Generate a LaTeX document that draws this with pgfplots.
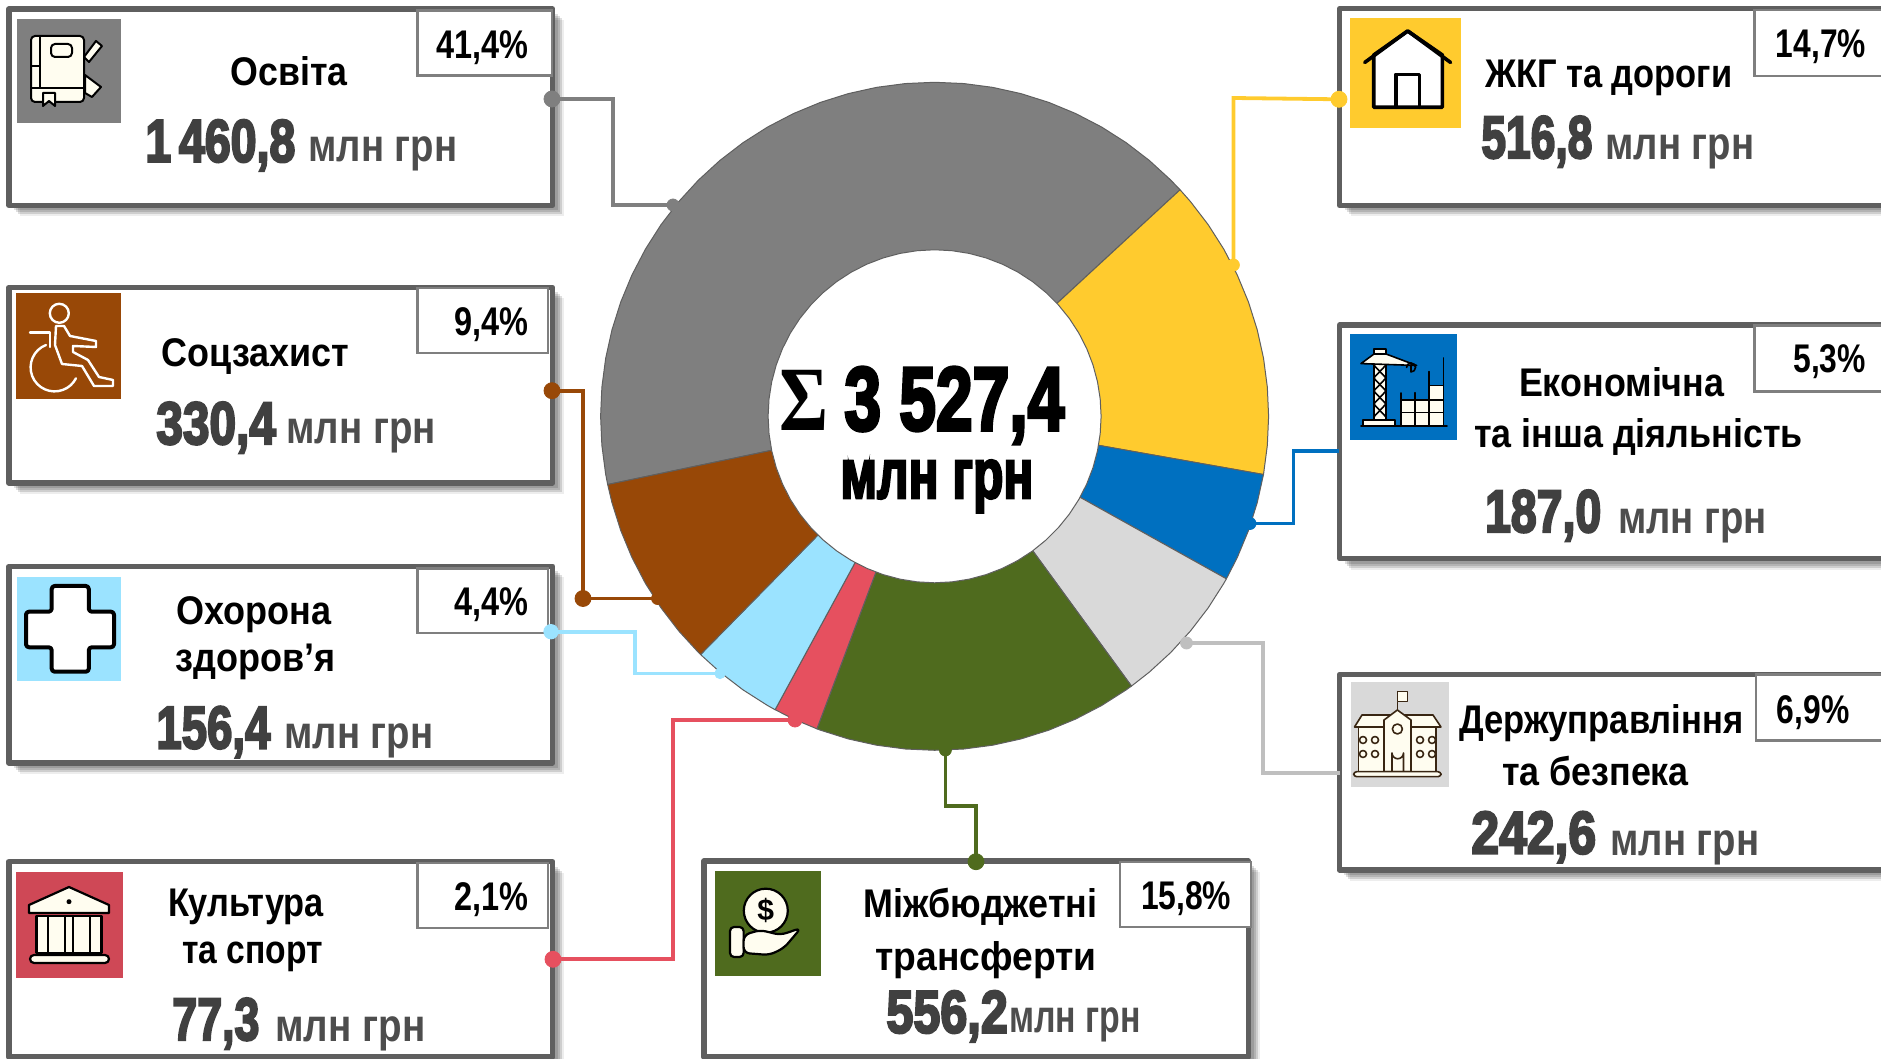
\documentclass[border=0pt]{standalone}
\usepackage{fontspec}
\usepackage{graphicx}
\usepackage{pgfplots}
\pgfplotsset{compat=1.18}
\setmainfont{Liberation Sans}
\newfontfamily\heavy{Liberation Sans}[BoldFeatures={FakeBold=4}]
\newfontfamily\sigmafont{Liberation Serif}

\definecolor{cGray}{HTML}{7F7F7F}
\definecolor{cYellow}{HTML}{FFCB2E}
\definecolor{cBlue}{HTML}{0070C0}
\definecolor{cLight}{HTML}{D9D9D9}
\definecolor{cLine}{HTML}{BFBFBF}
\definecolor{cGreen}{HTML}{4F6B1E}
\definecolor{cRed}{HTML}{E6505F}
\definecolor{cSky}{HTML}{9BE3FF}
\definecolor{cBrown}{HTML}{984807}
\definecolor{cEdge}{HTML}{5F5F5F}
\definecolor{cNum}{HTML}{404040}
\definecolor{cUnit}{HTML}{4D4D4D}
\definecolor{cream}{HTML}{FFFDF0}

% font sizes: 1 px of the reference is 0.5pt here
\newcommand\fT{\fontsize{20}{20}\selectfont\bfseries}
\newcommand\fN{\heavy\bfseries\fontsize{30}{30}\selectfont}
\newcommand\fU{\fontsize{23}{23}\selectfont\bfseries}
\newcommand\fP{\fontsize{20}{20}\selectfont\bfseries}

% text at left x, baseline y, fitted to a width in px
\newcommand\T[6][black]{\node[anchor=base west,inner sep=0pt,text=#1] at (axis cs:#2,#3) {#5\resizebox{\dimexpr#4pt/2\relax}{\height}{#6}};}

% outer card with soft shadow
\newcommand\Card[4]{%
  \addplot[draw=none,fill=black,fill opacity=.07,xshift=5.5pt,yshift=-5.5pt] coordinates {(#1,#2)(#3,#2)(#3,#4)(#1,#4)} --cycle;
  \addplot[draw=none,fill=black,fill opacity=.13,xshift=4.5pt,yshift=-4.5pt] coordinates {(#1,#2)(#3,#2)(#3,#4)(#1,#4)} --cycle;
  \addplot[draw=none,fill=black,fill opacity=.13,xshift=3.5pt,yshift=-3.5pt] coordinates {(#1,#2)(#3,#2)(#3,#4)(#1,#4)} --cycle;
  \addplot[draw=none,fill=black,fill opacity=.13,xshift=2.5pt,yshift=-2.5pt] coordinates {(#1,#2)(#3,#2)(#3,#4)(#1,#4)} --cycle;
  \addplot[draw=cEdge,fill=white,line width=2.7pt,line join=round] coordinates {(#1,#2)(#3,#2)(#3,#4)(#1,#4)} --cycle;
}
% percent box
\newcommand\Pct[4]{\addplot[draw=cGray,fill=white,line width=1.25pt] coordinates {(#1,#2)(#3,#2)(#3,#4)(#1,#4)} --cycle;}
% coloured icon square
\newcommand\Tile[5]{\addplot[draw=none,fill=#5] coordinates {(#1,#2)(#3,#2)(#3,#4)(#1,#4)} --cycle;}

\pgfplotsset{base/.style={at={(0,0)},anchor=south west,scale only axis,width=940.5pt,height=529.5pt,hide axis,clip=false}}

\begin{document}
\begin{tikzpicture}
\path[use as bounding box,clip] (0,0) rectangle (940.5pt,529.5pt);

% ---- donut, angle in degrees, sectors proportional to the budget values
\begin{axis}[base,xmin=-934.6,xmax=946.4,ymin=-642.7,ymax=416.3]
\pgfplotsset{every axis plot/.append style={data cs=polar,draw=cEdge,line width=.5pt,line join=round}}
% 1460,8 Освіта
\addplot[fill=cGray] coordinates {(0,0)(191.79,334)(190,334)(185,334)(180,334)(175,334)(170,334)(165,334)(160,334)(155,334)(150,334)(145,334)(140,334)(135,334)(130,334)(125,334)(120,334)(115,334)(110,334)(105,334)(100,334)(95,334)(90,334)(85,334)(80,334)(75,334)(70,334)(65,334)(60,334)(55,334)(50,334)(45,334)(42.7,334)} --cycle;
% 516,8 ЖКГ
\addplot[fill=cYellow] coordinates {(0,0)(42.7,334)(40,334)(35,334)(30,334)(25,334)(20,334)(15,334)(10,334)(5,334)(0,334)(-5,334)(-10,334)(-10.04,334)} --cycle;
% 187,0 економічна
\addplot[fill=cBlue] coordinates {(0,0)(-10.04,334)(-15,334)(-20,334)(-25,334)(-29.12,334)} --cycle;
% 242,6 держуправління
\addplot[fill=cLight] coordinates {(0,0)(-29.12,334)(-30,334)(-35,334)(-40,334)(-45,334)(-50,334)(-53.88,334)} --cycle;
% 556,2 трансферти
\addplot[fill=cGreen] coordinates {(0,0)(-53.88,334)(-55,334)(-60,334)(-65,334)(-70,334)(-75,334)(-80,334)(-85,334)(-90,334)(-95,334)(-100,334)(-105,334)(-110,334)(-110.64,334)} --cycle;
% 77,3 культура
\addplot[fill=cRed] coordinates {(0,0)(-110.64,334)(-115,334)(-118.53,334)} --cycle;
% 156,4 охорона здоров'я
\addplot[fill=cSky] coordinates {(0,0)(-118.53,334)(-120,334)(-125,334)(-130,334)(-134.49,334)} --cycle;
% 330,4 соцзахист
\addplot[fill=cBrown] coordinates {(0,0)(-134.49,334)(-135,334)(-140,334)(-145,334)(-150,334)(-155,334)(-160,334)(-165,334)(-168.21,334)} --cycle;
% hole
\addplot[fill=white] coordinates {(0,166.5)(6,166.5)(12,166.5)(18,166.5)(24,166.5)(30,166.5)(36,166.5)(42,166.5)(48,166.5)(54,166.5)(60,166.5)(66,166.5)(72,166.5)(78,166.5)(84,166.5)(90,166.5)(96,166.5)(102,166.5)(108,166.5)(114,166.5)(120,166.5)(126,166.5)(132,166.5)(138,166.5)(144,166.5)(150,166.5)(156,166.5)(162,166.5)(168,166.5)(174,166.5)(180,166.5)(186,166.5)(192,166.5)(198,166.5)(204,166.5)(210,166.5)(216,166.5)(222,166.5)(228,166.5)(234,166.5)(240,166.5)(246,166.5)(252,166.5)(258,166.5)(264,166.5)(270,166.5)(276,166.5)(282,166.5)(288,166.5)(294,166.5)(300,166.5)(306,166.5)(312,166.5)(318,166.5)(324,166.5)(330,166.5)(336,166.5)(342,166.5)(348,166.5)(354,166.5)} --cycle;
\end{axis}

% ---- cards, connectors, labels, in reference pixels
\begin{axis}[base,xmin=0,xmax=1881,ymin=0,ymax=1059,y dir=reverse]
\Card{8.8}{9}{552.7}{205.3}
\Card{8.8}{287.5}{552.7}{483}
\Card{8.8}{566.3}{552.7}{763}
\Card{8.8}{861.7}{552.7}{1057}
\Card{704}{861}{1248.5}{1057}
\Card{1339.7}{8.7}{1895}{205.5}
\Card{1339.7}{325}{1895}{558.7}
\Card{1339.3}{674.5}{1895}{870}

\Pct{417.5}{10.5}{552}{75.5}
\Pct{417.5}{288}{548}{353}
\Pct{417.5}{568.5}{548}{633}
\Pct{417.5}{863}{548}{928}
\Pct{1120}{862}{1251}{927}
\Pct{1754.6}{10}{1895}{76}
\Pct{1754.6}{325.5}{1895}{391.5}
\Pct{1756}{674.7}{1895}{740.5}

\Tile{16.8}{19}{121}{122.7}{cGray}
\Tile{16}{293.3}{121}{398.7}{cBrown}
\Tile{16.8}{576.7}{121.3}{681}{cSky}
\Tile{16}{872}{122.8}{978.3}{cRed!90!black}
\Tile{715}{871}{821}{976}{cGreen}
\Tile{1350.4}{18}{1461.3}{128.4}{cYellow}
\Tile{1350}{333.8}{1456.7}{440}{cBlue}
\Tile{1351.2}{681.7}{1448.5}{786.7}{cLight}

% connectors
\addplot[cGray,line width=1.9pt] coordinates {(552,99)(613,99)(613,205)(673,205)};
\addplot[cBrown,line width=1.9pt] coordinates {(552,390.7)(583,390.7)(583,598.5)(657.5,598.5)};
\addplot[cSky,line width=1.9pt] coordinates {(551,631.7)(634.7,631.7)(634.7,673.5)(720,673.5)};
\addplot[cRed,line width=1.9pt] coordinates {(553,959.3)(673,959.3)(673,720)(795,720)};
\addplot[cYellow,line width=1.9pt] coordinates {(1339,99.3)(1233.4,98)(1233.4,265)};
\addplot[cBlue,line width=1.9pt] coordinates {(1339,451)(1293.5,451)(1293.5,523.5)(1250,523.5)};
\addplot[cLine,line width=1.9pt] coordinates {(1340,773.3)(1263.3,773.3)(1263.3,643)(1186.5,643)};
\addplot[cGreen,line width=1.9pt] coordinates {(976,861.7)(976,806)(945.4,806)(945.4,750)};
% connector dots
\addplot[only marks,mark=*,mark size=4pt,cGray] coordinates {(552,99)};
\addplot[only marks,mark=*,mark size=3pt,cGray] coordinates {(673,205)};
\addplot[only marks,mark=*,mark size=4pt,cBrown] coordinates {(552,390.7)(583,598.5)};
\addplot[only marks,mark=*,mark size=3pt,cBrown] coordinates {(657.5,598.5)};
\addplot[only marks,mark=*,mark size=3.6pt,cSky] coordinates {(551,631.7)};
\addplot[only marks,mark=*,mark size=2.6pt,cSky] coordinates {(720,673.5)};
\addplot[only marks,mark=*,mark size=4pt,cRed] coordinates {(553,959.3)};
\addplot[only marks,mark=*,mark size=3.5pt,cRed] coordinates {(795,720)};
\addplot[only marks,mark=*,mark size=4pt,cYellow] coordinates {(1339,99.3)};
\addplot[only marks,mark=*,mark size=3pt,cYellow] coordinates {(1233.4,265)};
\addplot[only marks,mark=*,mark size=3pt,cBlue] coordinates {(1250,523.5)};
\addplot[only marks,mark=*,mark size=3pt,cLine] coordinates {(1186.5,643)};
\addplot[only marks,mark=*,mark size=4pt,cGreen] coordinates {(976,861.7)};
\addplot[only marks,mark=*,mark size=3pt,cGreen] coordinates {(945.4,750)};

% Освіта
\T{230}{86}{117}{\fT}{Освіта}
\T[cNum]{145}{161.7}{150}{\fN}{1\,460,8}
\T[cUnit]{308}{161.7}{149}{\fU}{млн грн}
\T{436}{58.3}{92}{\fP}{41,4\%}
% Соцзахист
\T{161.5}{366.7}{187.5}{\fT}{Соцзахист}
\T[cNum]{156}{444}{119.5}{\fN}{330,4}
\T[cUnit]{286}{444}{149.5}{\fU}{млн грн}
\T{454}{336}{74}{\fP}{9,4\%}
% Охорона
\T{176}{624}{155}{\fT}{Охорона}
\T{175}{671.7}{160}{\fT}{здоров’я}
\T[cNum]{156}{748.3}{114}{\fN}{156,4}
\T[cUnit]{284}{748.3}{149}{\fU}{млн грн}
\T{454}{615}{74}{\fP}{4,4\%}
% Культура
\T{167.6}{916}{156}{\fT}{Культура}
\T{182}{963.3}{140.6}{\fT}{та спорт}
\T[cNum]{172}{1040}{87}{\fN}{77,3}
\T[cUnit]{275}{1041.7}{150}{\fU}{млн грн}
\T{454}{910}{74}{\fP}{2,1\%}
% Міжбюджетні
\T{863}{917.3}{234}{\fT}{Міжбюджетні}
\T{875}{970.7}{221}{\fT}{трансферти}
\T[cNum]{886}{1032.7}{121.4}{\fN}{556,2}
\T[cUnit]{1009}{1032.7}{131.6}{\fU}{млн грн}
\T{1140.6}{909}{90.3}{\fP}{15,8\%}
% ЖКГ
\T{1484.6}{87.3}{247.4}{\fT}{ЖКГ та дороги}
\T[cNum]{1481}{158}{111}{\fN}{516,8}
\T[cUnit]{1605}{160}{149}{\fU}{млн грн}
\T{1775.5}{57.5}{90}{\fP}{14,7\%}
% Економічна
\T{1518.6}{396.4}{205.4}{\fT}{Економічна}
\T{1473.8}{448}{328.5}{\fT}{та інша діяльність}
\T[cNum]{1484.6}{532}{116.3}{\fN}{187,0}
\T[cUnit]{1617.7}{533.8}{148.8}{\fU}{млн грн}
\T{1793}{372.7}{72.6}{\fP}{5,3\%}
% Держуправління
\T{1458.7}{733.3}{284.2}{\fT}{Держуправління}
\T{1501.6}{785.7}{186.9}{\fT}{та безпека}
\T[cNum]{1471}{853.5}{124.7}{\fN}{242,6}
\T[cUnit]{1610}{855}{149}{\fU}{млн грн}
\T{1776.4}{723.3}{72.6}{\fP}{6,9\%}
% centre
\T{779}{430}{49}{\sigmafont\bfseries\fontsize{46}{46}\selectfont}{Σ}
\T{844}{430}{220}{\heavy\bfseries\fontsize{45}{45}\selectfont}{3 527,4}
\T{840}{498}{193}{\heavy\bfseries\fontsize{35}{35}\selectfont}{млн грн}
\end{axis}

% ---- pictograms, in reference pixels
\begin{scope}[yshift=529.5pt,x=.5pt,y=-.5pt,line join=round,line cap=round]
% book
\begin{scope}[draw=black,fill=cream,line width=1pt]
\filldraw (96,41) -- (102,46) -- (89,62) -- (84,57) -- cycle;
\filldraw (85,75) -- (101,87) -- (92,97) -- (85,93) -- cycle;
\filldraw[rounded corners=2pt] (31,36) rectangle (84,102);
\draw (31,88) -- (84,88);
\draw (39.5,37) -- (39.5,88);
\draw (31,66) -- (39,66);
\filldraw[rounded corners=2pt] (51,44) rectangle (72,57);
\filldraw (43,93) -- (55,93) -- (55,106) -- (49,101) -- (43,106) -- cycle;
\end{scope}
% wheelchair
\begin{scope}[draw=white,line width=1.2pt]
\draw (59.3,313.3) circle (9.5);
\draw (30,332.7) -- (50,332.7) -- (50,347);
\draw (46,345) arc[start angle=-111,end angle=-333,x radius=24,y radius=24];
\draw (56,326) -- (64,326) -- (70,336) -- (96,341) -- (96,347) -- (73,346) -- (73,352) -- (88,360) -- (99,377) -- (113,380) -- (113,386) -- (94,386) -- (82,366) -- (62,364) -- (55,345) -- cycle;
\end{scope}
% cross
\filldraw[draw=black,fill=white,line width=2pt,rounded corners=1.5pt] (51.7,586) -- (88.8,586) -- (88.8,611.7) -- (114,611.7) -- (114,647.3) -- (88.8,647.3) -- (88.8,671.7) -- (51.7,671.7) -- (51.7,647.3) -- (26,647.3) -- (26,611.7) -- (51.7,611.7) -- cycle;
% temple
\begin{scope}[draw=black,fill=cream,line width=1.1pt]
\filldraw (69,887) -- (109,905) -- (109,913) -- (29,913) -- (29,905) -- cycle;
\fill[black] (69,901.7) circle (2.5);
\filldraw (36.4,916) rectangle (101.4,953);
\draw (47.8,916) -- (47.8,953) (65,916) -- (65,953) (72.7,916) -- (72.7,953) (90,916) -- (90,953);
\filldraw[rounded corners=2pt] (30,955) rectangle (109,963);
\end{scope}
% hand with coin
\begin{scope}[draw=black,fill=cream,line width=1.1pt]
\filldraw (765.8,910.7) circle (22);
\node[text=black,font=\fontsize{15}{15}\selectfont\bfseries] at (765.8,910.7) {\$};
\filldraw[rounded corners=2pt] (730,927) rectangle (743.6,957);
\filldraw[rounded corners=3pt] (743.6,935) -- (760,930) -- (780.6,935) -- (801,928) -- (784,948) -- (769.5,955) -- (743.6,953) -- cycle;
\end{scope}
% house
\begin{scope}[draw=black,line width=1.8pt]
\filldraw[fill=white] (1373.7,55) -- (1407.7,31) -- (1442.4,55) -- (1442.4,107.3) -- (1373.7,107.3) -- cycle;
\draw (1364.7,62.5) -- (1407.7,31) -- (1450.6,62.5);
\draw (1395.8,107.3) -- (1395.8,74.5) -- (1419.5,74.5) -- (1419.5,107.3);
\end{scope}
% crane
\begin{scope}[draw=black,fill=cream,line width=.8pt]
\filldraw (1429,385.5) rectangle (1443.4,400);
\filldraw (1401,400) rectangle (1443.4,425.5);
\draw (1401,412.7) -- (1443.4,412.7) (1415,400) -- (1415,425.5) (1429,400) -- (1429,425.5);
\draw (1443.4,358) -- (1443.4,426) (1429,371.6) -- (1429,386) (1415,392.7) -- (1415,400) (1401,393) -- (1401,400);
\filldraw (1373.7,349) rectangle (1386,423.6);
\draw (1373.7,365) -- (1386,378) -- (1373.7,391) -- (1386,404) -- (1373.7,417);
\draw (1386,365) -- (1373.7,378) -- (1386,391) -- (1373.7,404) -- (1386,417);
\filldraw (1361,363.6) -- (1374,354) -- (1386,354) -- (1416.6,365.5) -- cycle;
\draw (1411,366) -- (1411,372) arc[start angle=90,end angle=-180,radius=4.5];
\filldraw (1363,420) rectangle (1395,425.5);
\draw (1361,426) -- (1447,426);
\end{scope}
% public building
\begin{scope}[draw=black!70!brown,fill=cream,line width=.8pt]
\draw (1397.4,691.7) -- (1397.4,710);
\filldraw (1397.4,691.7) rectangle (1407.6,701.7);
\filldraw (1354.5,727) -- (1362,715) -- (1433,715) -- (1441,727) -- cycle;
\filldraw (1358.6,727) rectangle (1436,771.7);
\filldraw (1384,771.7) -- (1384,720) -- (1397.4,710) -- (1411,720) -- (1411,771.7) -- cycle;
\draw (1397.4,729) circle (5);
\draw (1392,771.7) -- (1392,753) arc[start angle=180,end angle=0,radius=5.75] -- (1403.5,771.7);
\foreach \xx in {1363,1375,1420,1432} \foreach \yy in {740,754} {\draw (\xx,\yy) circle (3.5);}
\filldraw[rounded corners=1.5pt] (1353.7,771.7) rectangle (1441,776.7);
\end{scope}
\end{scope}
\end{tikzpicture}
\end{document}
